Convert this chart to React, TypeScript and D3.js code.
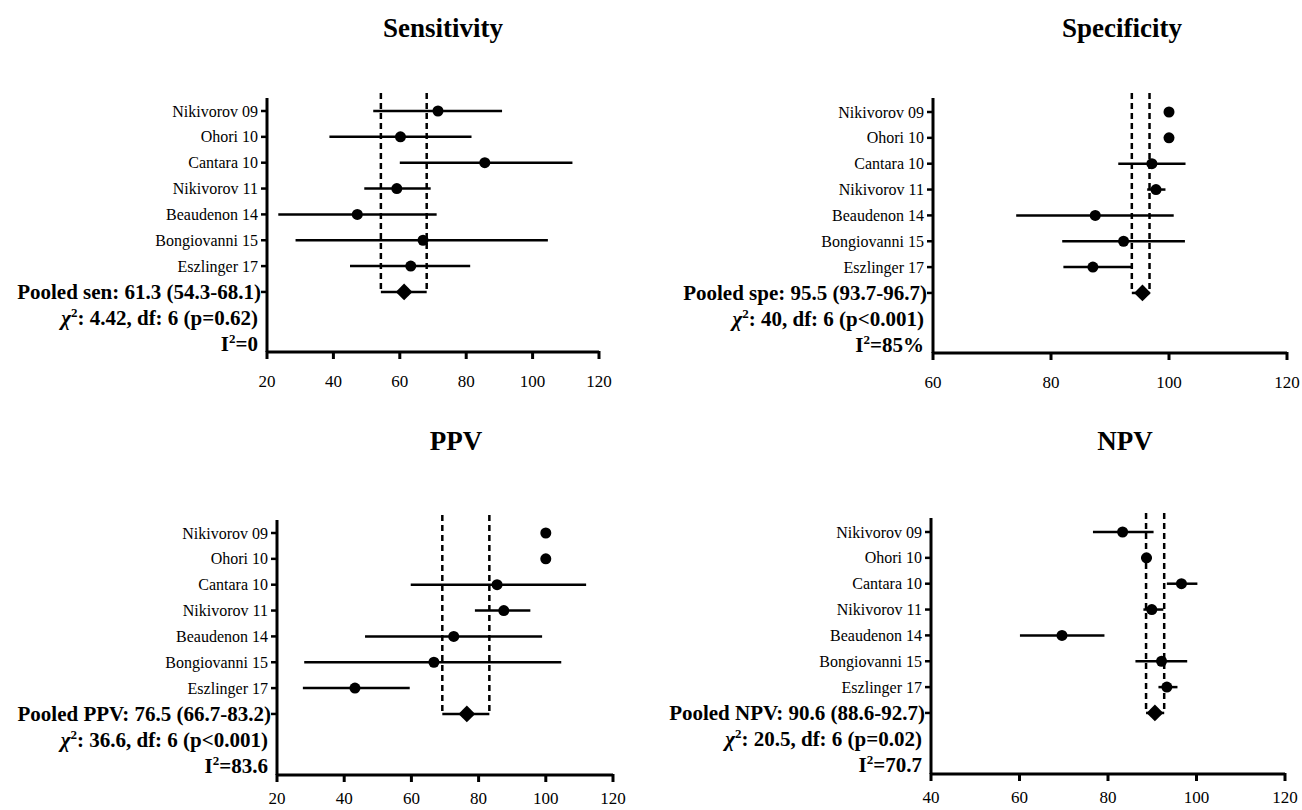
import React, { useEffect, useRef } from "react";
import * as d3 from "d3";

const studies = [
  "Nikivorov 09",
  "Ohori 10",
  "Cantara 10",
  "Nikivorov 11",
  "Beaudenon 14",
  "Bongiovanni 15",
  "Eszlinger 17",
];

// Sensitivity
const senPoint = [71.5, 60.2, 85.6, 59.1, 47.2, 67.0, 63.3];
const senLow = [52.0, 38.8, 60.0, 49.3, 23.4, 28.6, 45.0];
const senHigh = [90.8, 81.6, 112.0, 69.3, 71.1, 104.6, 81.2];
const senPooled = [61.3, 54.3, 68.1];
const senTicks = [20, 40, 60, 80, 100, 120];

// Specificity
const spePoint = [100, 100, 97.1, 97.8, 87.5, 92.3, 87.1];
const speLow = [100, 100, 91.4, 96.3, 74.1, 81.9, 82.1];
const speHigh = [100, 100, 102.8, 99.4, 100.8, 102.7, 93.9];
const spePooled = [95.5, 93.7, 96.7];
const speTicks = [60, 80, 100, 120];

// PPV
const ppvPoint = [100, 100, 85.5, 87.5, 72.6, 66.7, 43.2];
const ppvLow = [100, 100, 59.8, 78.9, 46.2, 28.1, 27.7];
const ppvHigh = [100, 100, 112.0, 95.4, 98.9, 104.6, 59.5];
const ppvPooled = [76.5, 69.2, 83.2];
const ppvTicks = [20, 40, 60, 80, 100, 120];

// NPV
const npvPoint = [83.3, 88.7, 96.6, 89.9, 69.6, 92.1, 93.3];
const npvLow = [76.6, 87.5, 93.3, 88.0, 60.1, 86.2, 91.4];
const npvHigh = [90.3, 89.9, 100.2, 92.5, 79.2, 97.9, 95.7];
const npvPooled = [90.6, 88.6, 92.7];
const npvTicks = [40, 60, 80, 100, 120];

const panels = [
  {
    title: "Sensitivity",
    point: senPoint, low: senLow, high: senHigh, pooled: senPooled, ticks: senTicks,
    pooledLabel: "Pooled sen: 61.3 (54.3-68.1)",
    chi: ": 4.42, df: 6 (p=0.62)",
    i2: "=0",
    layout: { left: 267, right: 599, axisY: 352, firstRow: 111, top: 98, titleX: 443, titleY: 28, tickLabel: 29 },
  },
  {
    title: "Specificity",
    point: spePoint, low: speLow, high: speHigh, pooled: spePooled, ticks: speTicks,
    pooledLabel: "Pooled spe: 95.5 (93.7-96.7)",
    chi: ": 40, df: 6 (p<0.001)",
    i2: "=85%",
    layout: { left: 933, right: 1287, axisY: 353, firstRow: 112, top: 98, titleX: 1122, titleY: 28, tickLabel: 29 },
  },
  {
    title: "PPV",
    point: ppvPoint, low: ppvLow, high: ppvHigh, pooled: ppvPooled, ticks: ppvTicks,
    pooledLabel: "Pooled PPV: 76.5 (66.7-83.2)",
    chi: ": 36.6, df: 6 (p<0.001)",
    i2: "=83.6",
    layout: { left: 277, right: 613, axisY: 775, firstRow: 533, top: 520, titleX: 456, titleY: 441, tickLabel: 23 },
  },
  {
    title: "NPV",
    point: npvPoint, low: npvLow, high: npvHigh, pooled: npvPooled, ticks: npvTicks,
    pooledLabel: "Pooled NPV: 90.6 (88.6-92.7)",
    chi: ": 20.5, df: 6 (p=0.02)",
    i2: "=70.7",
    layout: { left: 931, right: 1285, axisY: 774, firstRow: 532, top: 518, titleX: 1125, titleY: 441, tickLabel: 23 },
  },
];

const FONT = '"Liberation Serif", "Times New Roman", Times, serif';

const App = () => {
  const ref = useRef<SVGSVGElement>(null);

  useEffect(() => {
    const svg = d3.select(ref.current);
    svg.selectAll("*").remove();

    panels.forEach((p) => {
      const L = p.layout;
      const g = svg.append("g").style("font-family", FONT).attr("fill", "#000");

      const x = d3
        .scaleLinear()
        .domain([p.ticks[0], p.ticks[p.ticks.length - 1]])
        .range([L.left, L.right]);

      // rows: 7 studies, pooled, chi, I2
      const y = d3.scaleLinear().domain([0, 9]).range([L.firstRow, L.firstRow + 9 * 25.85]);
      const pooledRow = studies.length;

      // title
      g.append("text")
        .attr("x", L.titleX)
        .attr("y", L.titleY)
        .attr("dy", "0.35em")
        .attr("text-anchor", "middle")
        .attr("font-size", 27)
        .attr("font-weight", "bold")
        .text(p.title);

      // dashed pooled CI lines
      [p.pooled[1], p.pooled[2]].forEach((v) => {
        g.append("line")
          .attr("x1", x(v))
          .attr("x2", x(v))
          .attr("y1", L.top - 5)
          .attr("y2", y(pooledRow))
          .attr("stroke", "#000")
          .attr("stroke-width", 2.5)
          .attr("stroke-dasharray", "6,4");
      });

      // pooled CI bar
      g.append("line")
        .attr("x1", x(p.pooled[1]))
        .attr("x2", x(p.pooled[2]))
        .attr("y1", y(pooledRow))
        .attr("y2", y(pooledRow))
        .attr("stroke", "#000")
        .attr("stroke-width", 2.5);

      // study error bars
      studies.forEach((s, i) => {
        g.append("line")
          .attr("x1", x(p.low[i]))
          .attr("x2", x(p.high[i]))
          .attr("y1", y(i))
          .attr("y2", y(i))
          .attr("stroke", "#000")
          .attr("stroke-width", 2.5);
        g.append("circle")
          .attr("cx", x(p.point[i]))
          .attr("cy", y(i))
          .attr("r", 5.5)
          .attr("fill", "#000");
      });

      // pooled diamond
      g.append("path")
        .attr("d", d3.symbol(d3.symbolSquare, 140)())
        .attr("transform", `translate(${x(p.pooled[0])},${y(pooledRow)}) rotate(45)`)
        .attr("fill", "#000");

      // x axis
      const xAxis = g.append("g").attr("transform", `translate(0,${L.axisY})`);
      xAxis
        .append("line")
        .attr("x1", L.left)
        .attr("x2", L.right)
        .attr("stroke", "#000")
        .attr("stroke-width", 3);
      p.ticks.forEach((t) => {
        xAxis
          .append("line")
          .attr("x1", x(t))
          .attr("x2", x(t))
          .attr("y1", -1)
          .attr("y2", 7)
          .attr("stroke", "#000")
          .attr("stroke-width", 3);
        xAxis
          .append("text")
          .attr("x", x(t))
          .attr("y", L.tickLabel)
          .attr("dy", "0.35em")
          .attr("text-anchor", "middle")
          .attr("font-size", 17)
          .text(t);
      });

      // y axis
      g.append("line")
        .attr("x1", L.left)
        .attr("x2", L.left)
        .attr("y1", L.top)
        .attr("y2", L.axisY)
        .attr("stroke", "#000")
        .attr("stroke-width", 3);
      d3.range(pooledRow + 1).forEach((i) => {
        g.append("line")
          .attr("x1", L.left - 6)
          .attr("x2", L.left)
          .attr("y1", y(i))
          .attr("y2", y(i))
          .attr("stroke", "#000")
          .attr("stroke-width", 2.5);
      });

      // row labels
      studies.forEach((s, i) => {
        g.append("text")
          .attr("x", L.left - 9)
          .attr("y", y(i))
          .attr("dy", "0.35em")
          .attr("text-anchor", "end")
          .attr("font-size", 16)
          .text(s);
      });

      g.append("text")
        .attr("x", L.left - 6)
        .attr("y", y(pooledRow))
        .attr("dy", "0.35em")
        .attr("text-anchor", "end")
        .attr("font-size", 21)
        .attr("font-weight", "bold")
        .text(p.pooledLabel);

      const chi = g
        .append("text")
        .attr("x", L.left - 9)
        .attr("y", y(pooledRow + 1))
        .attr("dy", "0.35em")
        .attr("text-anchor", "end")
        .attr("font-size", 21)
        .attr("font-weight", "bold");
      chi.append("tspan").attr("font-style", "italic").text("χ");
      chi.append("tspan").attr("font-size", 13).attr("dy", -8).text("2");
      chi.append("tspan").attr("dy", 8).text(p.chi);

      const i2 = g
        .append("text")
        .attr("x", L.left - 9)
        .attr("y", y(pooledRow + 2))
        .attr("dy", "0.35em")
        .attr("text-anchor", "end")
        .attr("font-size", 21)
        .attr("font-weight", "bold");
      i2.append("tspan").text("I");
      i2.append("tspan").attr("font-size", 13).attr("dy", -8).text("2");
      i2.append("tspan").attr("dy", 8).text(p.i2);
    });
  }, []);

  return (
    <svg
      ref={ref}
      width={1302}
      height={810}
      style={{ position: "absolute", left: 0, top: 0, background: "#fff" }}
    />
  );
};

export default App;
